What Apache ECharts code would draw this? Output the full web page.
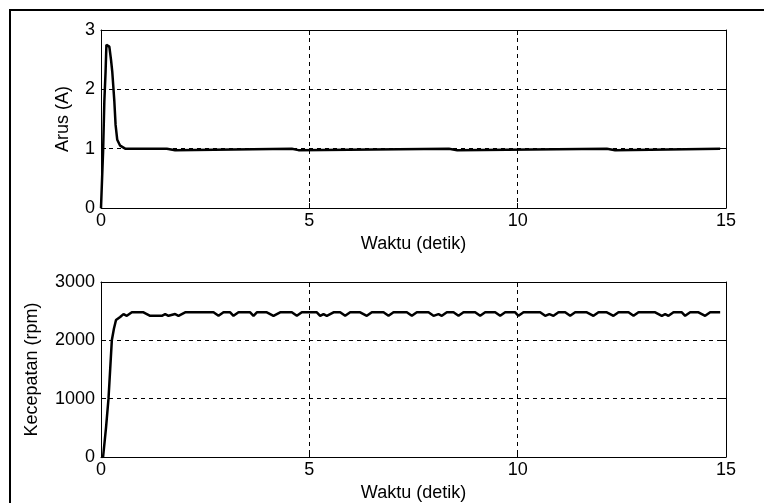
<!DOCTYPE html>
<html>
<head>
<meta charset="utf-8">
<script src="https://cdn.jsdelivr.net/npm/echarts@6/dist/echarts.min.js"></script>
<style>
  html, body { margin: 0; padding: 0; background: #fff; }
  #chart { width: 764px; height: 503px; }
</style>
</head>
<body>
<div id="chart"></div>
<script>
// waktu (detik), nilai
const xTicks = [0, 5, 10, 15];

// arus (A): [t, nilai]
const arus = [
  [0, 0], [0.04, 0], [0.05, 0.95], [0.08, 1.8], [0.11, 2.3], [0.13, 2.75],
  [0.2, 2.72], [0.24, 2.5], [0.27, 2.3], [0.32, 1.8], [0.35, 1.4], [0.39, 1.15],
  [0.46, 1.05], [0.58, 1.0], [1.58, 1.0], [1.62, 0.975], [1.78, 0.975], [1.82, 1.0],
  [4.58, 1.0], [4.62, 0.975], [4.74, 0.975], [4.78, 1.0], [8.35, 1.0], [8.39, 0.975],
  [8.55, 0.975], [8.59, 1.0], [12.14, 1.0], [12.18, 0.975], [12.34, 0.975], [12.38, 1.0],
  [14.86, 1.0]
];

// kecepatan (rpm): [t, nilai]
const kecepatan = [
  [0, 0], [0.05, 0], [0.12, 500], [0.18, 1000], [0.22, 1500], [0.26, 2000],
  [0.31, 2200], [0.36, 2350], [0.46, 2400], [0.54, 2450], [0.62, 2420], [0.74, 2480],
  [1.02, 2480], [1.18, 2420], [1.46, 2420], [1.54, 2450], [1.62, 2420], [1.78, 2450],
  [1.86, 2420], [2.02, 2480], [2.70, 2480], [2.82, 2420], [2.94, 2480], [3.10, 2480],
  [3.18, 2420], [3.30, 2480], [3.58, 2480], [3.66, 2420], [3.74, 2480], [3.98, 2480],
  [4.14, 2420], [4.30, 2480], [4.58, 2480], [4.70, 2420], [4.82, 2480], [5.18, 2480],
  [5.26, 2420], [5.34, 2450], [5.42, 2420], [5.58, 2480], [5.74, 2480], [5.86, 2420],
  [5.98, 2480], [6.22, 2480], [6.38, 2420], [6.50, 2480], [6.78, 2480], [6.90, 2420],
  [7.02, 2480], [7.34, 2480], [7.46, 2420], [7.58, 2480], [7.86, 2480], [7.98, 2420],
  [8.10, 2450], [8.18, 2420], [8.30, 2480], [8.46, 2480], [8.58, 2420], [8.70, 2480],
  [8.98, 2480], [9.10, 2420], [9.22, 2480], [9.46, 2480], [9.58, 2420], [9.70, 2480],
  [9.94, 2480], [10.02, 2420], [10.14, 2480], [10.54, 2480], [10.66, 2420], [10.76, 2450],
  [10.86, 2420], [10.98, 2480], [11.14, 2480], [11.26, 2420], [11.38, 2480], [11.66, 2480],
  [11.82, 2420], [11.94, 2480], [12.14, 2480], [12.30, 2420], [12.42, 2480], [12.66, 2480],
  [12.78, 2420], [12.90, 2480], [13.30, 2480], [13.46, 2420], [13.54, 2450], [13.62, 2420],
  [13.74, 2480], [13.94, 2480], [14.02, 2420], [14.14, 2480], [14.34, 2480], [14.50, 2420],
  [14.62, 2480], [14.86, 2480]
];

const FONT = "'Liberation Sans', Arial, sans-serif";
const FS = 18;
const dashed = { show: true, lineStyle: { color: "#000", width: 1, type: [4, 4] } };
const plain = (v) => String(v);

const chart = echarts.init(document.getElementById("chart"));

/*
 * axis helpers
 * */
const xAxisMain = (gridIndex) => ({
  type: "value", gridIndex, min: 0, max: 15, interval: 5,
  name: "Waktu (detik)", nameLocation: "middle", nameGap: 27,
  nameTextStyle: { color: "#000", fontFamily: FONT, fontSize: FS },
  axisLine: { show: true, onZero: false, lineStyle: { color: "#000", width: 1 } },
  axisTick: { show: true, inside: true, length: 5, lineStyle: { color: "#000" } },
  axisLabel: { color: "#000", fontFamily: FONT, fontSize: FS, margin: 4, formatter: plain },
  splitLine: dashed
});
const xAxisTop = (gridIndex) => ({
  type: "value", gridIndex, min: 0, max: 15, interval: 5, position: "top",
  axisLine: { show: true, onZero: false, lineStyle: { color: "#000", width: 1 } },
  axisTick: { show: true, inside: true, length: 5, lineStyle: { color: "#000" } },
  axisLabel: { show: false }, splitLine: { show: false }
});
const yAxisMain = (gridIndex, max, interval, name, gap) => ({
  type: "value", gridIndex, min: 0, max, interval,
  name, nameLocation: "middle", nameGap: gap,
  nameTextStyle: { color: "#000", fontFamily: FONT, fontSize: FS },
  axisLine: { show: true, onZero: false, lineStyle: { color: "#000", width: 1 } },
  axisTick: { show: true, inside: true, length: 5, lineStyle: { color: "#000" } },
  axisLabel: { color: "#000", fontFamily: FONT, fontSize: FS, margin: 6, formatter: plain },
  splitLine: dashed
});
const yAxisRight = (gridIndex, max, interval) => ({
  type: "value", gridIndex, min: 0, max, interval, position: "right",
  axisLine: { show: true, onZero: false, lineStyle: { color: "#000", width: 1 } },
  axisTick: { show: true, inside: true, length: 5, lineStyle: { color: "#000" } },
  axisLabel: { show: false }, splitLine: { show: false }
});

const option = {
  backgroundColor: "#fff",
  animation: false,
  graphic: [{
    type: "rect",
    shape: { x: 10, y: 10, width: 820, height: 600 },
    style: { fill: "none", stroke: "#000", lineWidth: 2 }
  }],
  grid: [
    { left: 101, top: 30, width: 625, height: 178 },
    { left: 101, top: 282, width: 625, height: 177 }
  ],
  xAxis: [xAxisMain(0), xAxisMain(1), xAxisTop(0), xAxisTop(1)],
  yAxis: [
    yAxisMain(0, 3, 1, "Arus (A)", 29),
    yAxisMain(1, 3000, 1000, "Kecepatan (rpm)", 60),
    yAxisRight(0, 3, 1),
    yAxisRight(1, 3000, 1000)
  ],
  series: [
    {
      type: "line", xAxisIndex: 0, yAxisIndex: 0, data: arus,
      showSymbol: false, lineStyle: { color: "#000", width: 2.5 }
    },
    {
      type: "line", xAxisIndex: 1, yAxisIndex: 1, data: kecepatan,
      showSymbol: false, lineStyle: { color: "#000", width: 2.5 }
    }
  ]
};

chart.setOption(option);
</script>
</body>
</html>
